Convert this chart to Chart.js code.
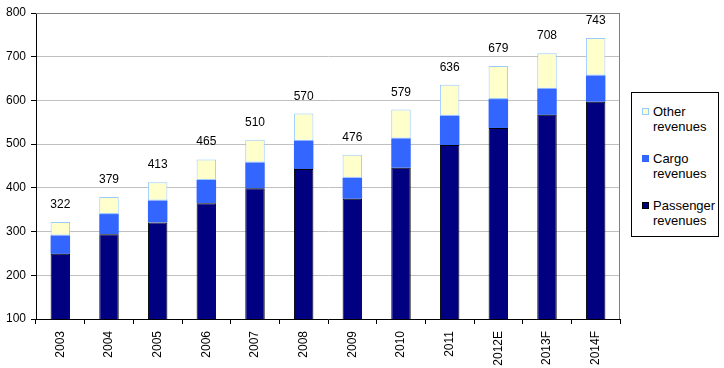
<!DOCTYPE html>
<html>
<head>
<meta charset="utf-8">
<script src="https://cdn.jsdelivr.net/npm/chart.js@4/dist/chart.umd.min.js"></script>
<style>
  body { margin: 0; background: #fff; }
  #wrap { position: relative; width: 724px; height: 368px; }
  #legend {
    position: absolute; left: 631px; top: 92px; width: 86px; height: 143px;
    border: 1px solid #000; background: #fff;
    font-family: "Liberation Sans", Arial, sans-serif; font-size: 13px; color: #000;
  }
  .item { position: absolute; left: 10px; line-height: 15px; }
  .item .box { position: absolute; left: 0; top: 4px; width: 7px; height: 7px; box-sizing: border-box; }
  .item .txt { margin-left: 11px; }
</style>
</head>
<body>
<div id="wrap">
  <canvas id="chart" width="724" height="368"></canvas>
  <div id="legend"></div>
</div>
<script>
const years = ["2003", "2004", "2005", "2006", "2007", "2008", "2009", "2010", "2011", "2012E", "2013F", "2014F"];
const passenger = [249, 294, 321, 365, 399, 443, 375, 446, 498, 537, 567, 597];
const cargo = [42, 46, 50, 53, 59, 65, 48, 67, 67, 66, 60, 60];
const other = [31, 39, 42, 47, 52, 62, 53, 66, 71, 76, 81, 86];
const yTicks = [100, 200, 300, 400, 500, 600, 700, 800];

const font = "Liberation Sans, Arial, sans-serif";

// totals above each stack
const totalsPlugin = {
    id: "totals",
    afterDatasetsDraw(chart) {
        const ctx = chart.ctx;
        const top = chart.getDatasetMeta(2);
        ctx.save();
        ctx.font = "12px " + font;
        ctx.fillStyle = "#000";
        ctx.textAlign = "center";
        ctx.textBaseline = "alphabetic";
        years.forEach((y, i) => {
            const total = passenger[i] + cargo[i] + other[i];
            const bar = top.data[i];
            ctx.fillText(String(total), bar.x, bar.y - 14);
        });
        ctx.restore();
    }
};

// gray frame on top and right of plot area
const framePlugin = {
    id: "frame",
    beforeDatasetsDraw(chart) {
        const a = chart.chartArea;
        const ctx = chart.ctx;
        ctx.save();
        ctx.strokeStyle = "#808080";
        ctx.lineWidth = 1;
        ctx.beginPath();
        ctx.moveTo(a.left, a.top + 0.5);
        ctx.lineTo(a.right - 0.5, a.top + 0.5);
        ctx.lineTo(a.right - 0.5, a.bottom);
        ctx.stroke();
        ctx.restore();
    }
};

const chart = new Chart(document.getElementById("chart"), {
    type: "bar",
    data: {
        labels: years,
        datasets: [
            { label: "Passenger revenues", data: passenger, backgroundColor: "#000080",
              borderColor: "#000000", borderWidth: 1, borderSkipped: false },
            { label: "Cargo revenues", data: cargo, backgroundColor: "#3366FF",
              borderWidth: 0 },
            { label: "Other revenues", data: other, backgroundColor: "#FFFFCC",
              borderColor: "#99CCFF", borderWidth: 1, borderSkipped: false }
        ]
    },
    options: {
        responsive: false,
        animation: false,
        layout: { padding: { left: 0, top: 13, right: 104, bottom: 0 } },
        plugins: { legend: { display: false }, tooltip: { enabled: false } },
        datasets: { bar: { barPercentage: 0.8, categoryPercentage: 0.5 } },
        scales: {
            x: {
                stacked: true,
                grid: { offset: true, drawOnChartArea: false, color: "#000", tickLength: 5 },
                border: { color: "#000" },
                ticks: { color: "#000", font: { family: font, size: 12 }, minRotation: 90, maxRotation: 90, padding: 7 },
                afterFit(s) { s.height = 49; }
            },
            y: {
                stacked: true,
                min: 100, max: 800,
                afterBuildTicks(s) { s.ticks = yTicks.map(v => ({ value: v })); },
                grid: {
                    color: c => (c.tick && c.tick.value === 800) ? "#808080" : "#C0C0C0",
                    tickColor: "#000", tickLength: 5
                },
                border: { color: "#000" },
                ticks: { color: "#000", font: { family: font, size: 12 }, padding: 5 },
                afterFit(s) { s.width = 36; }
            }
        }
    },
    plugins: [framePlugin, totalsPlugin]
});

// legend, reversed order like the original
const legend = document.getElementById("legend");
const items = [
    { text: ["Other", "revenues"], fill: "#FFFFCC", border: "#99CCFF", top: 11 },
    { text: ["Cargo", "revenues"], fill: "#3366FF", border: "#3366FF", top: 58 },
    { text: ["Passenger", "revenues"], fill: "#000080", border: "#000000", top: 105 }
];
items.forEach(it => {
    const d = document.createElement("div");
    d.className = "item";
    d.style.top = it.top + "px";
    const b = document.createElement("div");
    b.className = "box";
    b.style.background = it.fill;
    b.style.border = "1px solid " + it.border;
    const t = document.createElement("div");
    t.className = "txt";
    t.innerHTML = it.text.join("<br>");
    d.appendChild(b);
    d.appendChild(t);
    legend.appendChild(d);
});
</script>
</body>
</html>
